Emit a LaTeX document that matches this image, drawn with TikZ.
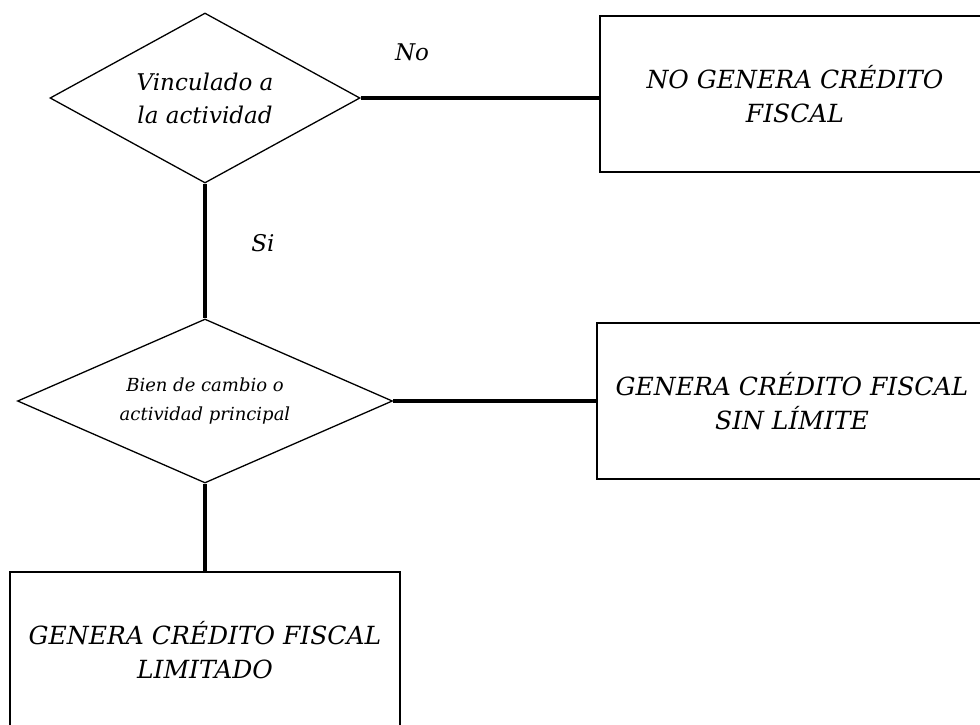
\documentclass[tikz,border=0pt]{standalone}
\usepackage{fontspec}
\setmainfont{DejaVu Serif}
\usepackage{tikz}
\usetikzlibrary{shapes.geometric}

\begin{document}
\begin{tikzpicture}[x=1pt, y=1pt,
    decision/.style={draw, diamond, aspect=1.8, inner sep=0pt, line width=1.3pt, align=center, font=\itshape\fontsize{23}{33}\selectfont},
    result/.style={draw, rectangle, minimum width=390pt, minimum height=156pt, line width=1.8pt, align=center, font=\itshape\fontsize{25}{34}\selectfont},
    link/.style={line width=3.2pt}]
    \useasboundingbox (0,0) rectangle (980,-724);
    \clip (0,0) rectangle (980,-724);

    \node[decision, minimum width=310pt, minimum height=170pt] (vinculado) at (205,-98) {Vinculado a\\la actividad};
    \node[result, right of=vinculado, node distance=590pt, yshift=4pt] (nogenera) {NO GENERA CRÉDITO\\FISCAL};
    \node[decision, minimum width=375pt, minimum height=164pt, below of=vinculado, node distance=303pt, font=\itshape\fontsize{18}{29}\selectfont] (bien) {Bien de cambio o\\actividad principal};
    \node[result, right of=bien, node distance=587pt] (sinlimite) {GENERA CRÉDITO FISCAL\\SIN LÍMITE};
    \node[result, below of=bien, node distance=249pt] (limitado) {GENERA CRÉDITO FISCAL\\LIMITADO};

    \draw[link] (vinculado.east) -- (vinculado.east -| nogenera.west);
    \draw[link] (vinculado.south) -- (bien.north);
    \draw[link] (bien.east) -- (bien.east -| sinlimite.west);
    \draw[link] (bien.south) -- (limitado.north);

    \node[font=\itshape\fontsize{23}{28}\selectfont] (no) at (412,-52) {No};
    \node[font=\itshape\fontsize{23}{28}\selectfont] (si) at (263,-243) {Si};
\end{tikzpicture}
\end{document}
